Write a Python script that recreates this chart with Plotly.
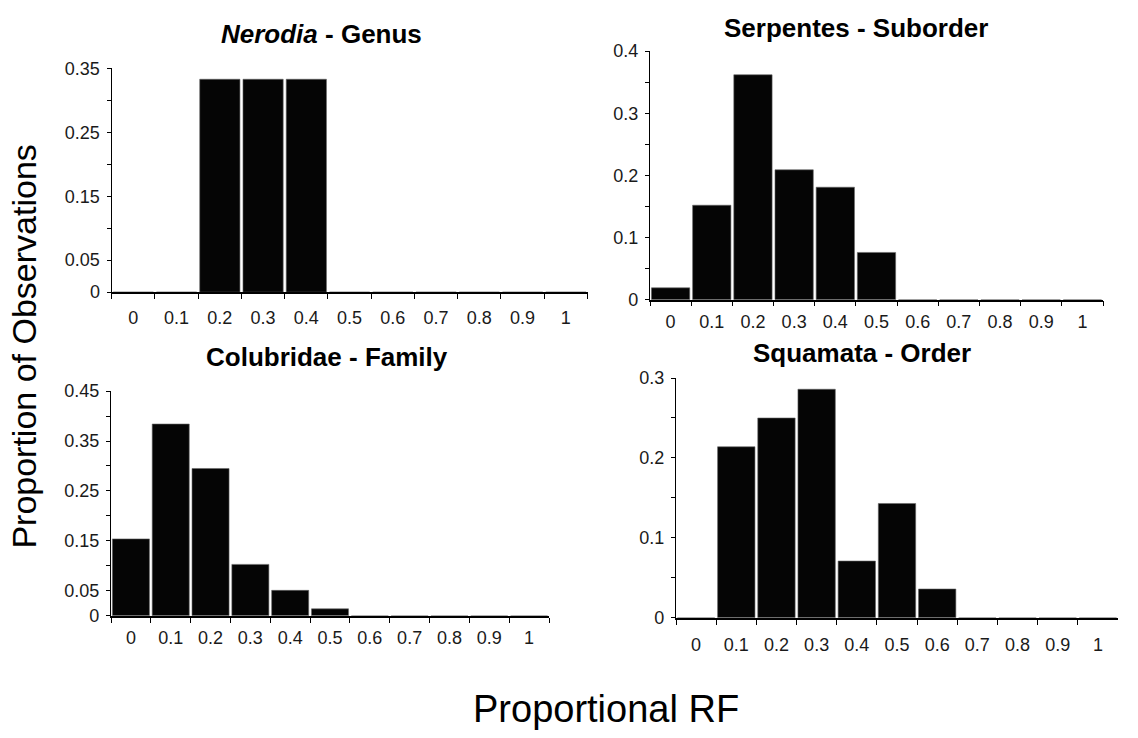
import plotly.graph_objects as go

W, H = 1138, 738

categories = ["0", "0.1", "0.2", "0.3", "0.4", "0.5", "0.6", "0.7", "0.8", "0.9", "1"]

nerodia = [0, 0, 0.333, 0.333, 0.333, 0, 0, 0, 0, 0, 0]
serpentes = [0.019, 0.152, 0.362, 0.209, 0.181, 0.076, 0, 0, 0, 0, 0]
colubridae = [0.154, 0.384, 0.295, 0.103, 0.051, 0.014, 0, 0, 0, 0, 0]
squamata = [0, 0.214, 0.25, 0.286, 0.071, 0.143, 0.036, 0, 0, 0, 0]

titles = ["<b><i>Nerodia</i> - Genus</b>", "<b>Serpentes - Suborder</b>",
          "<b>Colubridae - Family</b>", "<b>Squamata - Order</b>"]

nerodia_ticks = [0, 0.05, 0.1, 0.15, 0.2, 0.25, 0.3, 0.35]
nerodia_labels = ["0", "0.05", "", "0.15", "", "0.25", "", "0.35"]
serpentes_ticks = [0, 0.05, 0.1, 0.15, 0.2, 0.25, 0.3, 0.35, 0.4]
serpentes_labels = ["0", "", "0.1", "", "0.2", "", "0.3", "", "0.4"]
colubridae_ticks = [0, 0.05, 0.1, 0.15, 0.2, 0.25, 0.3, 0.35, 0.4, 0.45]
colubridae_labels = ["0", "0.05", "", "0.15", "", "0.25", "", "0.35", "", "0.45"]
squamata_ticks = [0, 0.05, 0.1, 0.15, 0.2, 0.25, 0.3]
squamata_labels = ["0", "", "0.1", "", "0.2", "", "0.3"]

y_title = "Proportion of Observations"
x_title = "Proportional RF"

FONT = "Liberation Sans, Arial, Helvetica, sans-serif"

# panel geometry in pixels: (x0, x1, ytop, ybottom)
panels = [
    dict(vals=nerodia, ticks=nerodia_ticks, labels=nerodia_labels, ymax=0.35,
         box=(111.7, 587.5, 60, 290), title_xy=(321, 25), xstand=8),
    dict(vals=serpentes, ticks=serpentes_ticks, labels=serpentes_labels, ymax=0.4,
         box=(650, 1103, 42.3, 297.7), title_xy=(856, 19), xstand=5),
    dict(vals=colubridae, ticks=colubridae_ticks, labels=colubridae_labels, ymax=0.45,
         box=(111, 549, 391.7, 622.7), title_xy=(327, 357), xstand=5),
    dict(vals=squamata, ticks=squamata_ticks, labels=squamata_labels, ymax=0.3,
         box=(676, 1118, 378.3, 624.7), title_xy=(862, 353), xstand=10),
]

fig = go.Figure()
annotations = []
for i, p in enumerate(panels, start=1):
    xa = "x" if i == 1 else f"x{i}"
    ya = "y" if i == 1 else f"y{i}"
    fig.add_trace(go.Bar(
        x=categories, y=p["vals"], xaxis=xa, yaxis=ya,
        marker=dict(color="#050505", line=dict(color="#666666", width=0.6)),
        showlegend=False, hoverinfo="skip",
    ))
    x0, x1, yt, yb = p["box"]
    key = "" if i == 1 else str(i)
    fig.update_layout(**{
        f"xaxis{key}": dict(
            domain=[x0 / W, x1 / W], anchor=ya, type="category",
            range=[-0.5, 10.5], showline=True, linecolor="black", linewidth=1.6,
            ticks="outside", tickson="boundaries", ticklen=5, tickwidth=1.4,
            tickcolor="black", showgrid=False, zeroline=False,
            tickfont=dict(family=FONT, size=18, color="#1a1a1a"),
            ticklabelstandoff=p["xstand"], fixedrange=True,
        ),
        f"yaxis{key}": dict(
            domain=[1 - yb / H, 1 - yt / H], anchor=xa,
            range=[0, p["ymax"]], showline=True, linecolor="black", linewidth=1.4,
            ticks="outside", ticklen=4, tickwidth=1.2, tickcolor="black",
            tickmode="array", tickvals=p["ticks"], ticktext=p["labels"],
            showgrid=False, zeroline=False,
            tickfont=dict(family=FONT, size=18, color="#1a1a1a"),
            ticklabelstandoff=3, fixedrange=True,
        ),
    })
    tx, ty = p["title_xy"]
    annotations.append(dict(
        text=titles[i - 1], x=tx / W, y=1 - ty / H, xref="paper", yref="paper",
        showarrow=False, xanchor="center", yanchor="middle",
        font=dict(family=FONT, size=26, color="black"),
    ))

annotations.append(dict(
    text=y_title, x=24 / W, y=1 - 346 / H, xref="paper", yref="paper",
    showarrow=False, textangle=-90, xanchor="center", yanchor="middle",
    font=dict(family=FONT, size=34, color="black"),
))
annotations.append(dict(
    text=x_title, x=606 / W, y=1 - 718 / H, xref="paper", yref="paper",
    showarrow=False, xanchor="center", yanchor="middle",
    font=dict(family=FONT, size=38, color="black"),
))

fig.update_layout(
    width=W, height=H, margin=dict(l=0, r=0, t=0, b=0),
    paper_bgcolor="white", plot_bgcolor="white",
    bargap=0.07, annotations=annotations,
)

fig.write_html("out.html", config={"displayModeBar": False})
